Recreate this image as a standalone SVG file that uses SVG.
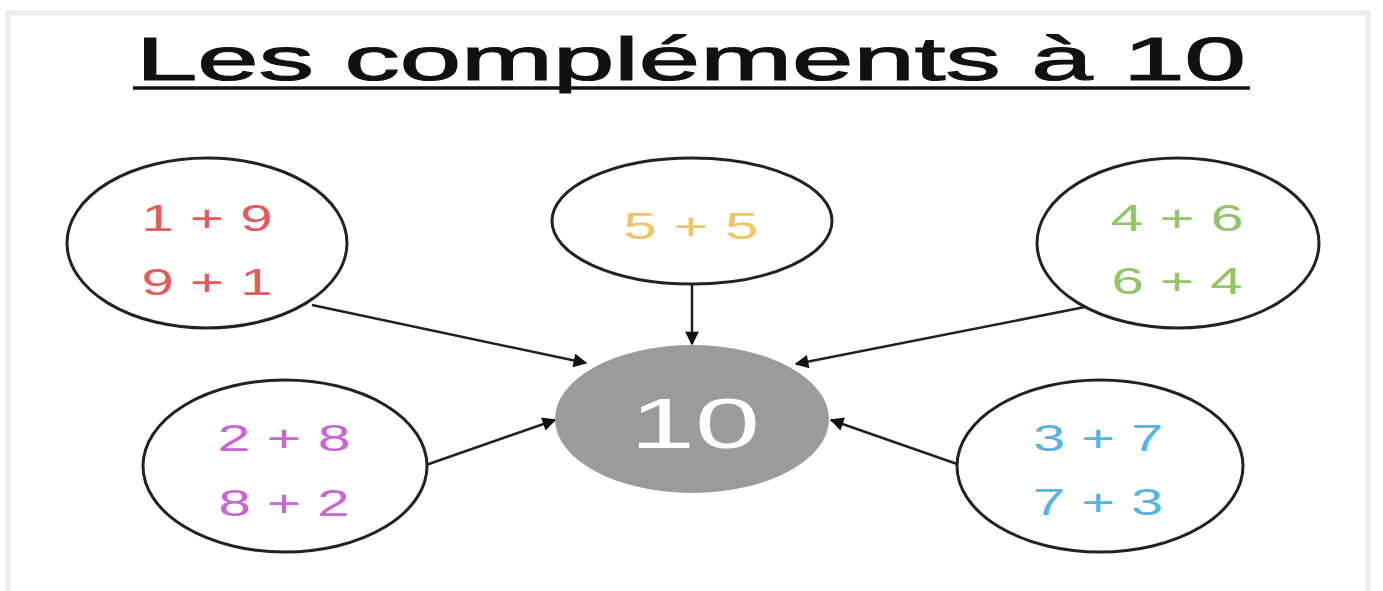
<svg xmlns="http://www.w3.org/2000/svg" width="1383" height="591" viewBox="0 0 1383 591">
<style>
.bubble{fill:#ffffff;stroke:#222;stroke-width:3}
.sum{font-family:"Liberation Sans",Arial,sans-serif;font-size:37px;text-anchor:middle}
.conn line{stroke:#222;stroke-width:2.5}
</style>
<defs>
<marker id="ah" viewBox="0 0 10 10" refX="9" refY="5" markerWidth="6" markerHeight="5.5" orient="auto" markerUnits="strokeWidth">
<path d="M0,0 L10,5 L0,10 z" fill="#111"/>
</marker>
</defs>
<rect x="0" y="0" width="1383" height="591" fill="#ffffff"/>
<path d="M8,600 L8,13 L1368,13 L1368,600" fill="none" stroke="#ececec" stroke-width="5"/>
<g id="title">
<text x="691" y="80" font-family="'Liberation Sans',Arial,sans-serif" font-size="62" text-anchor="middle" textLength="1110" lengthAdjust="spacingAndGlyphs" fill="#111" stroke="#111" stroke-width="1.2">Les compléments à 10</text>
<line x1="133" y1="88" x2="1250" y2="88" stroke="#111" stroke-width="3.5"/>
</g>
<g id="connectors" class="conn">
<line x1="312" y1="305" x2="586" y2="363" marker-end="url(#ah)"/>
<line x1="692" y1="284" x2="692" y2="344" marker-end="url(#ah)"/>
<line x1="1085" y1="307" x2="796" y2="364" marker-end="url(#ah)"/>
<line x1="426" y1="465" x2="555" y2="420" marker-end="url(#ah)"/>
<line x1="960" y1="465" x2="831" y2="420" marker-end="url(#ah)"/>
</g>
<g id="n19">
<ellipse class="bubble" cx="207" cy="243" rx="140" ry="85"/>
<text class="sum" x="207" y="231" fill="#e35b5e" textLength="131" lengthAdjust="spacingAndGlyphs">1 + 9</text>
<text class="sum" x="207" y="295" fill="#e35b5e" textLength="131" lengthAdjust="spacingAndGlyphs">9 + 1</text>
</g>
<g id="n55">
<ellipse class="bubble" cx="692" cy="221" rx="140" ry="63"/>
<text class="sum" x="691" y="239" fill="#efc46a" textLength="135" lengthAdjust="spacingAndGlyphs">5 + 5</text>
</g>
<g id="n46">
<ellipse class="bubble" cx="1178" cy="243" rx="141" ry="85"/>
<text class="sum" x="1177" y="231" fill="#92c46a" textLength="133" lengthAdjust="spacingAndGlyphs">4 + 6</text>
<text class="sum" x="1177" y="294" fill="#92c46a" textLength="131" lengthAdjust="spacingAndGlyphs">6 + 4</text>
</g>
<g id="n28">
<ellipse class="bubble" cx="285" cy="466" rx="142" ry="86"/>
<text class="sum" x="284" y="451" fill="#c866d6" textLength="133" lengthAdjust="spacingAndGlyphs">2 + 8</text>
<text class="sum" x="284" y="516" fill="#c866d6" textLength="131" lengthAdjust="spacingAndGlyphs">8 + 2</text>
</g>
<g id="n37">
<ellipse class="bubble" cx="1100" cy="466" rx="143" ry="86"/>
<text class="sum" x="1098" y="451" fill="#5ab4e0" textLength="130" lengthAdjust="spacingAndGlyphs">3 + 7</text>
<text class="sum" x="1098" y="515" fill="#5ab4e0" textLength="130" lengthAdjust="spacingAndGlyphs">7 + 3</text>
</g>
<g id="n10">
<ellipse cx="692" cy="419" rx="137" ry="74" fill="#9b9b9b"/>
<text x="695" y="448" font-family="'Liberation Sans',Arial,sans-serif" font-size="70" text-anchor="middle" fill="#ffffff" textLength="130" lengthAdjust="spacingAndGlyphs">10</text>
</g>
</svg>
